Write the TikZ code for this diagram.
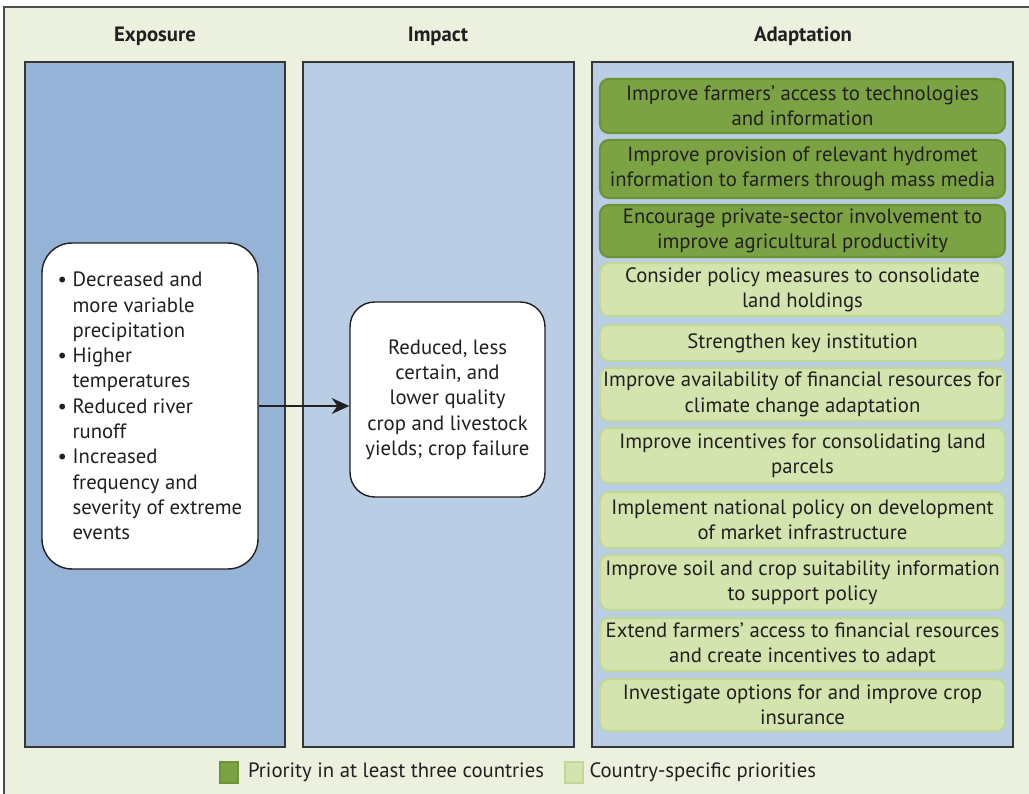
\documentclass[tikz,border=0pt]{standalone}
\usepackage{fontspec}
\setmainfont{PT Sans}
\usetikzlibrary{arrows.meta,positioning}
\definecolor{framebg}{HTML}{EBF1DE}
\definecolor{expoblue}{HTML}{95B3D7}
\definecolor{impblue}{HTML}{B9CDE5}
\definecolor{darkgreen}{HTML}{7BA344}
\definecolor{darkgreenline}{HTML}{6A9436}
\definecolor{lightgreen}{HTML}{D3E4AE}
\definecolor{lightgreenline}{HTML}{C2D896}
\definecolor{inkgray}{HTML}{231F20}
\begin{document}
\begin{tikzpicture}[x=0.02cm, y=-0.02cm,
  every node/.style={font=\fontsize{11.8}{14.4}\selectfont, text=inkgray, inner sep=0pt},
  title/.style={font=\fontsize{11.8}{14.4}\selectfont\bfseries},
  panel/.style={draw=inkgray!90, line width=0.9pt, minimum height=13.7cm},
  whitebox/.style={draw=inkgray, fill=white, line width=0.8pt, align=center},
  dbox/.style={draw=darkgreenline, fill=darkgreen, line width=1.2pt, rounded corners=5pt, minimum width=8.1cm, align=center},
  lbox/.style={draw=lightgreenline, fill=lightgreen, line width=1.2pt, rounded corners=5pt, minimum width=8.1cm, align=center},
  swatch/.style={minimum width=0.36cm, minimum height=0.42cm, line width=1pt}]
  \useasboundingbox (0,0) rectangle (1029,794);
  \draw [fill=framebg, draw=inkgray!80, line width=0.9pt] (4,7) rectangle (1045,810);

  \node [title] (exptitle) at (155,36) {Exposure};
  \node [title] (imptitle) at (438,36) {Impact};
  \node [title] (adatitle) at (803,36) {Adaptation};

  \node [panel, fill=expoblue, minimum width=5.2cm] (exppanel) at (155,404.5) {};
  \node [panel, fill=impblue, minimum width=5.42cm] (imppanel) at (438.5,404.5) {};
  \node [panel, fill=impblue, minimum width=8.42cm] (adapanel) at (802.5,404.5) {};

  \node [whitebox, rounded corners=17pt, minimum width=4.32cm, minimum height=6.52cm, align=left] (expo) at (150,406)
    {\textbullet\ Decreased and\\ \phantom{\textbullet\ }more variable\\ \phantom{\textbullet\ }precipitation\\
     \textbullet\ Higher\\ \phantom{\textbullet\ }temperatures\\
     \textbullet\ Reduced river\\ \phantom{\textbullet\ }runoff\\
     \textbullet\ Increased\\ \phantom{\textbullet\ }frequency and\\ \phantom{\textbullet\ }severity of extreme\\ \phantom{\textbullet\ }events};
  \node [whitebox, rounded corners=14pt, minimum width=3.9cm, minimum height=3.9cm] (imp) at (447.5,399.5)
    {Reduced, less\\ certain, and\\ lower quality\\ crop and livestock\\ yields; crop failure};
  \draw [-{Stealth[length=10pt,width=9pt]}, line width=1.2pt, draw=inkgray] (expo.east) -- (expo.east -| imp.west);

  \node [dbox, minimum height=1.08cm] (ad1) at (802.5,106) {Improve farmers’ access to technologies\\ and information};
  \node [dbox, minimum height=1.16cm] (ad2) at (802.5,169) {Improve provision of relevant hydromet\\ information to farmers through mass media};
  \node [dbox, minimum height=1.04cm] (ad3) at (802.5,231) {Encourage private-sector involvement to\\ improve agricultural productivity};
  \node [lbox, minimum height=1.06cm] (ad4) at (802.5,289.5) {Consider policy measures to consolidate\\ land holdings};
  \node [lbox, minimum height=0.72cm] (ad5) at (802.5,343) {Strengthen key institution};
  \node [lbox, minimum height=1.06cm] (ad6) at (802.5,394.5) {Improve availability of financial resources for\\ climate change adaptation};
  \node [lbox, minimum height=1.1cm] (ad7) at (802.5,455.5) {Improve incentives for consolidating land\\ parcels};
  \node [lbox, minimum height=1.12cm] (ad8) at (802.5,520) {Implement national policy on development\\ of market infrastructure};
  \node [lbox, minimum height=1.1cm] (ad9) at (802.5,582.5) {Improve soil and crop suitability information\\ to support policy};
  \node [lbox, minimum height=1.06cm] (ad10) at (802.5,644.5) {Extend farmers’ access to financial resources\\ and create incentives to adapt};
  \node [lbox, minimum height=1.04cm] (ad11) at (802.5,705) {Investigate options for and improve crop\\ insurance};

  % legend
  \node [swatch, draw=darkgreenline, fill=darkgreen] (keydark) at (229,772.5) {};
  \node [right=5pt of keydark] (keydarktext) {Priority in at least three countries};
  \node [swatch, draw=lightgreenline, fill=lightgreen] (keylight) at (574,772.5) {};
  \node [right=3pt of keylight] (keylighttext) {Country-specific priorities};
\end{tikzpicture}
\end{document}
